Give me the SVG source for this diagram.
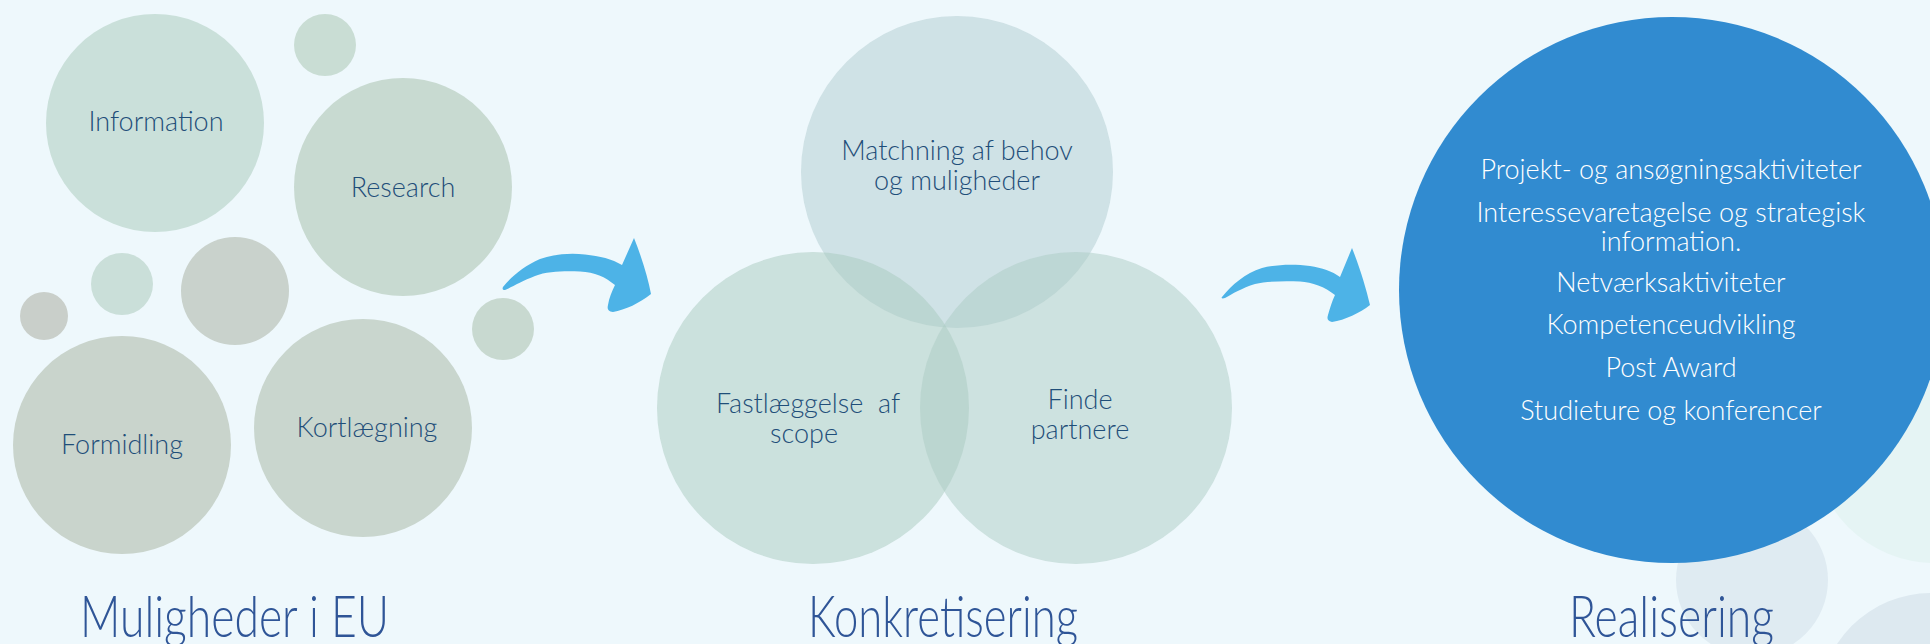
<svg xmlns="http://www.w3.org/2000/svg" width="1930" height="644" viewBox="0 0 1930 644">
<style>
.lbl{font-family:"Lato","Open Sans","Liberation Sans",sans-serif;font-weight:300;font-size:27px;fill:#1f4e79;text-anchor:middle}
.wl{font-family:"Lato","Open Sans","Liberation Sans",sans-serif;font-weight:300;font-size:27px;fill:#ffffff;text-anchor:middle}
.ttl{font-family:"Lato","Open Sans","Liberation Sans",sans-serif;font-weight:300;font-size:58px;fill:#2f5597;text-anchor:start}
.arrow{fill:#4db3e7}
.venn{opacity:0.5}
</style>
<rect width="1930" height="644" fill="#eef8fc"/>
<g id="background-circles">
<circle cx="1935" cy="440" r="123" fill="#e5f4f4"/>
<circle cx="1752" cy="580" r="76" fill="#dfebf2"/>
<circle cx="1931" cy="705" r="112" fill="#dde9f0"/>
</g>
<g id="stage1">
<g id="node-information"><circle cx="155" cy="123" r="109" fill="#cae0da"/><text class="lbl" x="156" y="131">Information</text></g>
<g id="node-dot-top"><circle cx="325" cy="45" r="31" fill="#c9ddd4"/></g>
<g id="node-research"><circle cx="403" cy="187" r="109" fill="#c8dad1"/><text class="lbl" x="403" y="197">Research</text></g>
<g id="node-dot-left"><circle cx="44" cy="316" r="24" fill="#c9cfca"/></g>
<g id="node-dot-small"><circle cx="122" cy="284" r="31" fill="#cadfd9"/></g>
<g id="node-dot-medium"><circle cx="235" cy="291" r="54" fill="#c9d2cc"/></g>
<g id="node-dot-right"><circle cx="503" cy="329" r="31" fill="#c8d9d0"/></g>
<g id="node-formidling"><circle cx="122" cy="445" r="109" fill="#c9d4cc"/><text class="lbl" x="122" y="454">Formidling</text></g>
<g id="node-kortlaegning"><circle cx="363" cy="428" r="109" fill="#c9d6ce"/><text class="lbl" x="367" y="437">Kortlægning</text></g>
<text id="title-1" class="ttl" x="80" y="637" textLength="309" lengthAdjust="spacingAndGlyphs">Muligheder i EU</text>
</g>
<g id="stage2">
<g id="node-matchning"><circle class="venn" cx="957" cy="172" r="156" fill="#b0ccd0"/></g>
<g id="node-fastlaeggelse"><circle class="venn" cx="813" cy="408" r="156" fill="#a8cabe"/></g>
<g id="node-finde"><circle class="venn" cx="1076" cy="408" r="156" fill="#acccc4"/></g>
<text class="lbl" x="957" y="160">Matchning af behov</text>
<text class="lbl" x="957" y="190">og muligheder</text>
<text class="lbl" x="808" y="413" xml:space="preserve">Fastlæggelse  af</text>
<text class="lbl" x="804" y="443">scope</text>
<text class="lbl" x="1080" y="409">Finde</text>
<text class="lbl" x="1080" y="439">partnere</text>
<text id="title-2" class="ttl" x="808" y="637" textLength="270" lengthAdjust="spacingAndGlyphs">Konkretisering</text>
</g>
<g id="stage3">
<g id="node-realisering">
<circle cx="1672" cy="290" r="273" fill="#318bd0"/>
<text class="wl" x="1671" y="179">Projekt- og ansøgningsaktiviteter</text>
<text class="wl" x="1671" y="222">Interessevaretagelse og strategisk</text>
<text class="wl" x="1671" y="251">information.</text>
<text class="wl" x="1671" y="292">Netværksaktiviteter</text>
<text class="wl" x="1671" y="334">Kompetenceudvikling</text>
<text class="wl" x="1671" y="377">Post Award</text>
<text class="wl" x="1671" y="420">Studieture og konferencer</text>
</g>
<text id="title-3" class="ttl" x="1569" y="637" textLength="205" lengthAdjust="spacingAndGlyphs">Realisering</text>
</g>
<g id="connectors">
<path class="arrow" d="M503,287 C512,276 524,266 540,259 C555,254 570,253 585,254.5 C600,256 612,259 622,265 L634,238 C642,258 648,278 651,294 C640,303 625,310 613,312 C608,311 607,309 608,305 C609,298 612,291 615,285 C605,277 595,272 580,271.5 C565,271 548,271 535,276 C522,281 512,287 505,290 C503,290 502,289 503,287 Z"/>
<path class="arrow" d="M1222,297 C1232,285 1245,273 1262,268 C1278,264 1295,264 1310,266 C1322,268 1332,271 1340,277 L1352,248 C1360,268 1366,288 1370,305 C1360,313 1345,320 1332,322 C1327,321 1327,318 1328,315 C1330,308 1332,301 1335,295 C1325,287 1312,282 1300,281.5 C1285,281 1268,281 1255,284 C1242,288 1232,294 1225,298 C1222,299 1221,298 1222,297 Z"/>
</g>
</svg>
